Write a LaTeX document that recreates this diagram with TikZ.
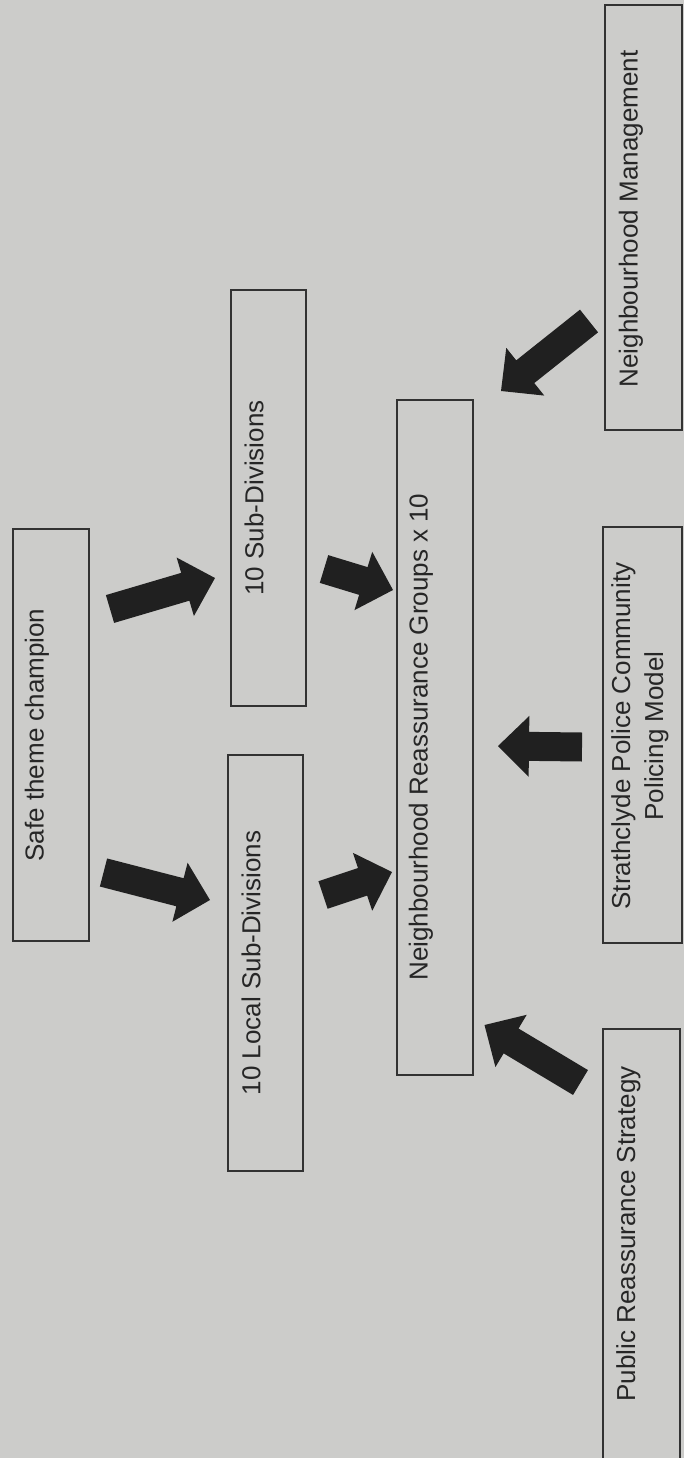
\documentclass[tikz,border=0pt]{standalone}
\usepackage{fontspec}
\setmainfont{Liberation Sans}
\usetikzlibrary{calc}
\definecolor{paper}{RGB}{204,204,202}
\definecolor{ink}{RGB}{32,32,32}
\definecolor{txt}{RGB}{38,38,38}
\definecolor{edge}{RGB}{50,50,50}
\newcommand{\blockarr}[3]{%
  \coordinate (#1-n) at ($(#3)!31pt!(#2)$);
  \fill[ink] ($(#2)!14.5pt!90:(#3)$) -- ($(#1-n)!14.5pt!90:(#3)$) -- ($(#1-n)!30.5pt!90:(#3)$) -- (#3)
    -- ($(#1-n)!30.5pt!-90:(#3)$) -- ($(#1-n)!14.5pt!-90:(#3)$) -- ($(#2)!14.5pt!-90:(#3)$) -- cycle;
}
\begin{document}
\begin{tikzpicture}[x=1pt,y=-1pt,
  box/.style={draw=edge, line width=1.8pt, rectangle, inner sep=0pt},
  lbl/.style={rotate=90, text=txt, font=\fontsize{26}{33}\selectfont, inner sep=0pt, align=center}]
\useasboundingbox (0,0) rectangle (684,1458);
\clip (0,0) rectangle (684,1458);
\fill[paper] (0,0) rectangle (684,1458);
% boxes
\node[box, minimum width=76, minimum height=412] (safe) at (51,735) {};
\node[box, minimum width=75, minimum height=416] (sub) at (268.5,498) {};
\node[box, minimum width=75, minimum height=416] (local) at (265.5,963) {};
\node[box, minimum width=76, minimum height=675] (nrg) at (435,737.5) {};
\node[box, minimum width=77, minimum height=425] (nm) at (643.5,217.5) {};
\node[box, minimum width=79, minimum height=416] (strath) at (642.5,735) {};
\node[box, minimum width=77, minimum height=451] (prs) at (641.5,1254.5) {};
% labels
\node[lbl] (tsafe) at (37,735) {Safe theme champion};
\node[lbl] (tsub) at (254,498) {10 Sub-Divisions};
\node[lbl] (tlocal) at (251,963) {10 Local Sub-Divisions};
\node[lbl] (tnrg) at (421,737) {Neighbourhood Reassurance Groups x 10};
\node[lbl] (tnm) at (631,219) {Neighbourhood Management};
\node[lbl] (tstrath) at (640,736) {Strathclyde Police Community\\Policing Model};
\node[lbl] (tprs) at (628.5,1234) {Public Reassurance Strategy};
% arrow ends
\coordinate (aT) at (110,609);   \coordinate (aP) at (215,578);
\coordinate (bT) at (103.5,872.5); \coordinate (bP) at (210,900);
\coordinate (cT) at (323,895);   \coordinate (cP) at (392,872);
\coordinate (dT) at (324,569);   \coordinate (dP) at (393,590);
\coordinate (eT) at (582,747);   \coordinate (eP) at (498,746);
\coordinate (fT) at (589,321);   \coordinate (fP) at (501,391);
\coordinate (gT) at (580.5,1082.5); \coordinate (gP) at (484.5,1025);
\blockarr{a}{aT}{aP}
\blockarr{b}{bT}{bP}
\blockarr{c}{cT}{cP}
\blockarr{d}{dT}{dP}
\blockarr{e}{eT}{eP}
\blockarr{f}{fT}{fP}
\blockarr{g}{gT}{gP}
\end{tikzpicture}
\end{document}
